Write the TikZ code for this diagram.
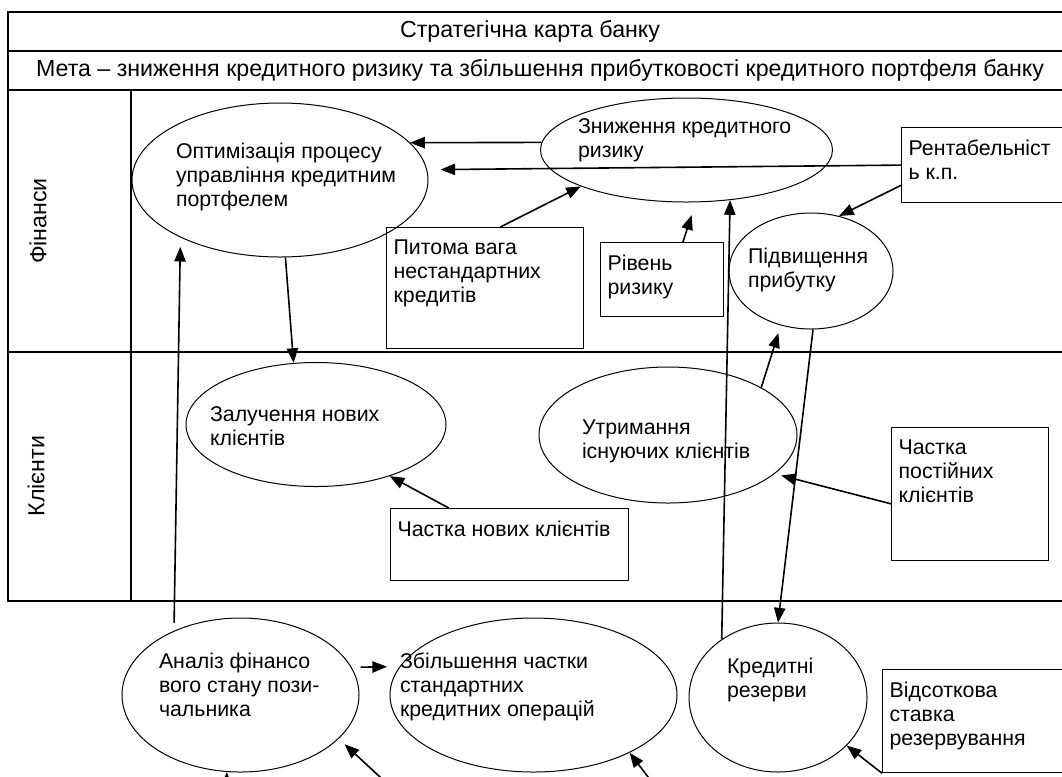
\documentclass[tikz,border=0pt]{standalone}
\usepackage{fontspec}
\setmainfont{Liberation Sans}
\usetikzlibrary{arrows.meta,shapes.geometric}
\newdimen\pxu
\pxu=0.75pt
% text inside an oval: left edge and first baseline relative to the centre
\newcommand{\goaltext}[3]{\makebox[0pt][l]{\hspace*{#1\pxu}\raisebox{#2\pxu}[0pt][0pt]{\begin{tabular}[t]{@{}l@{}}#3\end{tabular}}}}
% text in the top left corner of an indicator box
\newcommand{\boxtext}[3]{\parbox[c][#2\pxu][t]{#1\pxu}{\raggedright #3}}
\tikzset{%
  >={Triangle[length=11pt, width=8.5pt]},
  % Specifications for style of nodes:
     base/.style = {draw=black, inner sep=0pt, font=\fontsize{16}{18}\selectfont},
     goal/.style = {base, ellipse, line width=0.75pt},
     indicator/.style = {base, rectangle, anchor=north west,
                         inner xsep=7\pxu, inner ysep=12\pxu, line width=0.9pt},
     heading/.style = {font=\fontsize{17.4}{20}\selectfont},
     lane/.style = {heading, rotate=90},
     frame/.style = {line width=1.5pt},
     link/.style = {->, line width=1.2pt},
}
\begin{document}
\begin{tikzpicture}[x=0.75pt, y=-0.75pt, node distance=100\pxu]
  \useasboundingbox (0,0) rectangle (1062,776);
  \clip (0,0) rectangle (1062,776);

  % Frame of the map
  \draw[frame] (8,12) rectangle (1075,601);
  \draw[frame] (8,51) -- (1075,51);
  \draw[frame] (8,90) -- (1075,90);
  \draw[frame] (8,352) -- (1075,352);
  \draw[frame] (131,90) -- (131,601);

  \node (mapTitle)  [heading] at (530,31.5) {Стратегічна карта банку};
  \node (mapGoal)   [heading] at (540,70.5)
        {Мета – зниження кредитного ризику та збільшення прибутковості кредитного портфеля банку};
  \node (financeLane) [lane] at (38,221) {Фінанси};
  \node (clientLane)  [lane] at (36,476) {Клієнти};

  % Specification of nodes (position, etc.)
  \node (optimBlock)       [goal, minimum width=296\pxu, minimum height=154\pxu] at (280,180)
                           {\goaltext{-104}{22}{Оптимізація процесу\\управління кредитним\\портфелем}};
  \node (riskBlock)        [goal, minimum width=292\pxu, minimum height=104\pxu,
                            right of=optimBlock, xshift=306.5\pxu, yshift=30\pxu]
                           {\goaltext{-108.5}{17}{Зниження кредитного\\ризику}};
  \node (profitBlock)      [goal, minimum width=164\pxu, minimum height=116\pxu,
                            below of=riskBlock, xshift=124.5\pxu, yshift=-21\pxu]
                           {\goaltext{-63}{8}{Підвищення\\прибутку}};
  \node (newClientsBlock)  [goal, minimum width=260\pxu, minimum height=124\pxu,
                            below of=optimBlock, xshift=36\pxu, yshift=-144.5\pxu]
                           {\goaltext{-106}{3.5}{Залучення нових\\клієнтів}};
  \node (keepClientsBlock) [goal, minimum width=258\pxu, minimum height=136\pxu,
                            below of=profitBlock, xshift=-143\pxu, yshift=-64\pxu]
                           {\goaltext{-86}{1}{Утримання\\існуючих клієнтів}};
  \node (analysisBlock)    [goal, minimum width=237\pxu, minimum height=154\pxu,
                            below of=newClientsBlock, xshift=-75.5\pxu, yshift=-170.5\pxu]
                           {\goaltext{-81.5}{27}{Аналіз фінансо\\вого стану пози-\\чальника}};
  \node (standardOpsBlock) [goal, minimum width=287\pxu, minimum height=154\pxu,
                            right of=analysisBlock, xshift=193\pxu]
                           {\goaltext{-133.5}{27}{Збільшення частки\\стандартних\\кредитних операцій}};
  \node (reservesBlock)    [goal, minimum width=178\pxu, minimum height=149\pxu,
                            right of=standardOpsBlock, xshift=144.5\pxu, yshift=-2.5\pxu]
                           {\goaltext{-51}{24.5}{Кредитні\\резерви}};

  \node (nonstandardShare)    [indicator] at (386,227) {\boxtext{183}{97}{Питома вага\\нестандартних\\кредитів}};
  \node (riskLevel)           [indicator] at (600,242) {\boxtext{109}{50}{Рівень\\ризику}};
  \node (profitability)       [indicator] at (901,127) {\boxtext{160}{51}{Рентабельніст\\ь к.п.}};
  \node (newClientsShare)     [indicator] at (390,508) {\boxtext{224}{48}{Частка нових клієнтів}};
  \node (regularClientsShare) [indicator] at (891,427) {\boxtext{143}{109}{Частка\\постійних\\клієнтів}};
  \node (reserveRate)         [indicator] at (882,669) {\boxtext{179}{79}{Відсоткова\\ставка\\резервування}};

  % free ends of the arrows coming from below the cut
  \coordinate (belowAnalysisLeft) at (226,800);
  \coordinate (belowAnalysis)     at (394,790);
  \coordinate (belowStandard)     at (658,790);

  % Specification of lines between nodes specified above
  \draw[link]                   (riskBlock.177) -- (optimBlock.16);
  \draw[link, shorten >=10pt]   (profitability.west) -- (optimBlock.4);
  \draw[link]                   (nonstandardShare.76) -- (riskBlock.199);
  \draw[link, shorten >=10pt]   (riskLevel.61) -- (riskBlock.-80);
  \draw[link]                   (profitability.193) -- (profitBlock.63);
  \draw[link]                   (optimBlock.-86) -- (newClientsBlock.110);
  \draw[link, shorten <=6pt, shorten >=7pt] (analysisBlock.136) -- (optimBlock.210);
  \draw[link, shorten <=6.75pt, shorten >=9.4pt] (analysisBlock.14) -- (standardOpsBlock.168);
  \draw[link]                   (reservesBlock.134) -- (riskBlock.-49);
  \draw[link]                   (profitBlock.-88) -- (reservesBlock.north);
  \draw[link, shorten >=6pt]    (keepClientsBlock.27) -- (profitBlock.241);
  \draw[link]                   (newClientsShare.149) -- (newClientsBlock.-35);
  \draw[link, shorten >=5pt]    (regularClientsShare.187) -- (keepClientsBlock.-20);
  \draw[link]                   (reserveRate.south west) -- (reservesBlock.-35);
  \draw[link]                   (belowStandard) -- (standardOpsBlock.-31);
  \draw[link, shorten >=6pt]    (belowAnalysis) -- (analysisBlock.-24);
  \draw[link]                   (belowAnalysisLeft) -- (analysisBlock.-100);
\end{tikzpicture}
\end{document}
